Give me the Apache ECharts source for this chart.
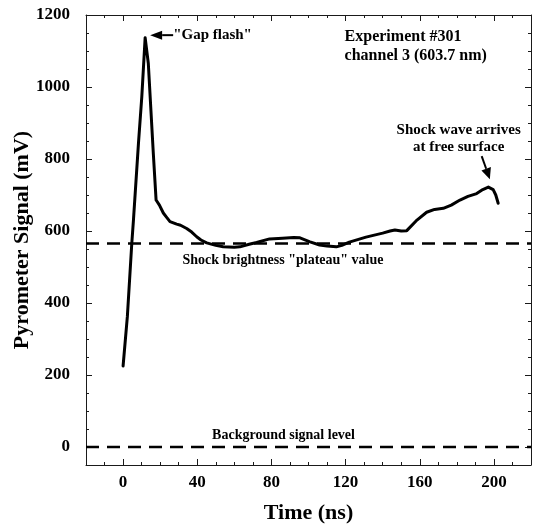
<!DOCTYPE html>
<html>
<head>
<meta charset="utf-8">
<script src="https://cdn.jsdelivr.net/npm/echarts@6/dist/echarts.min.js"></script>
<style>
html,body{margin:0;padding:0;background:#fff;}
#chart{width:534px;height:524px;}
</style>
</head>
<body>
<div id="chart"></div>
<script>
// ---- data ----
const time = [0, 2.3, 4.7, 5.6, 8.3, 10.1, 11.9, 13.6, 16.3, 17.8, 19.6, 21.7, 23.5, 25.3, 28.9, 31, 34.3, 37, 39.7, 42, 45.1, 50, 54, 60, 63, 68, 72, 79, 86, 92, 95.4, 100.8, 106, 110, 115, 118, 122, 131, 140, 144, 146.6, 150, 153, 158, 163.7, 168, 172.7, 177, 181.7, 186, 190.7, 194, 197, 199.6, 201, 202.3];
const signal = [225, 362, 566, 631, 844, 973, 1137, 1066, 816, 686, 672, 650, 638, 626, 619, 616, 607, 597, 584, 575, 567, 560, 556, 555, 556, 563, 568, 578, 580, 582, 581, 570, 561, 558, 556, 560, 569, 583, 594, 600, 603, 600, 601, 628, 652, 660, 663, 672, 686, 696, 704, 715, 722, 715, 700, 677];
const plateauLevel = 565;
const backgroundLevel = 0;
const xTickValues = [0, 40, 80, 120, 160, 200];
const yTickValues = [0, 200, 400, 600, 800, 1000, 1200];
const xRange = [-20, 220];
const yRange = [-50, 1200];

const FONT = '"Liberation Serif", "Times New Roman", serif';
const AX = '#1a1a1a';

const chart = echarts.init(document.getElementById('chart'), null, {renderer: 'canvas'});

function minorAxis(pos, interval, range) {
  return {
    type: 'value', position: pos, min: range[0], max: range[1], interval: interval,
    axisLine: {show: true, onZero: false, lineStyle: {color: AX, width: 1}},
    axisTick: {show: true, inside: true, length: 3, lineStyle: {color: AX, width: 1}},
    axisLabel: {show: false}, splitLine: {show: false}
  };
}
function majorAxis(pos, interval, range, values, withLabels) {
  return {
    type: 'value', position: pos, min: range[0], max: range[1], interval: interval,
    axisLine: {show: false, onZero: false},
    axisTick: {show: true, inside: true, length: 6, customValues: values, lineStyle: {color: AX, width: 1}},
    axisLabel: withLabels ? {show: true, customValues: values, formatter: v => String(v), fontFamily: FONT, fontWeight: 'bold', fontSize: 17, color: '#000'} : {show: false},
    splitLine: {show: false}
  };
}

const xBottomMajor = majorAxis('bottom', 10, xRange, xTickValues, true);
xBottomMajor.axisLabel.margin = 9;
xBottomMajor.name = 'Time (ns)';
xBottomMajor.nameLocation = 'middle';
xBottomMajor.nameGap = 37;
xBottomMajor.nameMoveOverlap = false;
xBottomMajor.nameTextStyle = {fontFamily: FONT, fontWeight: 'bold', fontSize: 22, color: '#000'};

const yLeftMajor = majorAxis('left', 50, yRange, yTickValues, true);
yLeftMajor.axisLabel.margin = 16;
yLeftMajor.name = 'Pyrometer Signal (mV)';
yLeftMajor.nameLocation = 'middle';
yLeftMajor.nameGap = 53;
yLeftMajor.nameMoveOverlap = false;
yLeftMajor.nameTextStyle = {fontFamily: FONT, fontWeight: 'bold', fontSize: 22, color: '#000'};

const dash = {color: '#000', width: 2.5, type: [13, 8]};

chart.setOption({
  animation: false,
  backgroundColor: '#fff',
  grid: {left: 86, right: 3, top: 15, bottom: 59, containLabel: false, outerBoundsMode: 'none'},
  xAxis: [
    minorAxis('bottom', 10, xRange),
    xBottomMajor,
    minorAxis('top', 10, xRange),
    majorAxis('top', 10, xRange, xTickValues, false)
  ],
  yAxis: [
    minorAxis('left', 50, yRange),
    yLeftMajor,
    minorAxis('right', 50, yRange),
    majorAxis('right', 50, yRange, yTickValues, false)
  ],
  series: [
    {
      type: 'line', xAxisIndex: 0, yAxisIndex: 0, showSymbol: false, silent: true,
      data: [[xRange[0], plateauLevel], [xRange[1], plateauLevel]],
      lineStyle: dash, z: 3
    },
    {
      type: 'line', xAxisIndex: 0, yAxisIndex: 0, showSymbol: false, silent: true,
      data: [[xRange[0], backgroundLevel], [xRange[1], backgroundLevel]],
      lineStyle: dash, z: 3
    },
    {
      type: 'line', xAxisIndex: 0, yAxisIndex: 0, showSymbol: false, smooth: false, silent: true,
      data: time.map((t, i) => [t, signal[i]]),
      lineStyle: {color: '#000', width: 3, join: 'round', cap: 'round'}, z: 2
    }
  ]
});

// ---- annotations, positioned from data-space anchors ----
function px(t, v) { return chart.convertToPixel({gridIndex: 0}, [t, v]); }
function arrow(from, to, headLen, headHalf, width) {
  const dx = to[0] - from[0], dy = to[1] - from[1];
  const L = Math.sqrt(dx * dx + dy * dy);
  const ux = dx / L, uy = dy / L;
  const bx = to[0] - ux * headLen, by = to[1] - uy * headLen;
  return [
    {type: 'line', shape: {x1: from[0], y1: from[1], x2: bx, y2: by}, style: {stroke: '#000', lineWidth: width}, z: 10},
    {type: 'polygon', shape: {points: [to, [bx - uy * headHalf, by + ux * headHalf], [bx + uy * headHalf, by - ux * headHalf]]}, style: {fill: '#000'}, z: 10}
  ];
}
function text(str, x, y, size, align) {
  return {type: 'text', x: x, y: y, z: 10,
    style: {text: str, fontFamily: FONT, fontWeight: 'bold', fontSize: size, fill: '#000', align: align || 'left', verticalAlign: 'middle'}};
}

const gapTip = px(14.6, 1144), gapTail = px(27, 1144);
const shockTail = px(193.4, 808), shockTip = px(197.8, 744);
const plat = px(32, plateauLevel);
const bg = px(48, backgroundLevel);
const exp = px(120, 1140);
const sw = px(181, 880);

const g = [].concat(
  arrow(gapTail, gapTip, 12, 4.5, 2),
  arrow(shockTail, shockTip, 11, 5, 2),
  [
    text('"Gap flash"', gapTail[0], gapTail[1], 15),
    text('Experiment #301', exp[0] - 1, exp[1], 16),
    text('channel 3 (603.7 nm)', exp[0] - 1, exp[1] + 19, 16),
    text('Shock wave arrives', sw[0], sw[1], 15, 'center'),
    text('at free surface', sw[0], sw[1] + 17, 15, 'center'),
    text('Shock brightness "plateau" value', plat[0], plat[1] + 17, 14),
    text('Background signal level', bg[0], bg[1] - 12, 14)
  ]
);
chart.setOption({graphic: g});
</script>
</body>
</html>
